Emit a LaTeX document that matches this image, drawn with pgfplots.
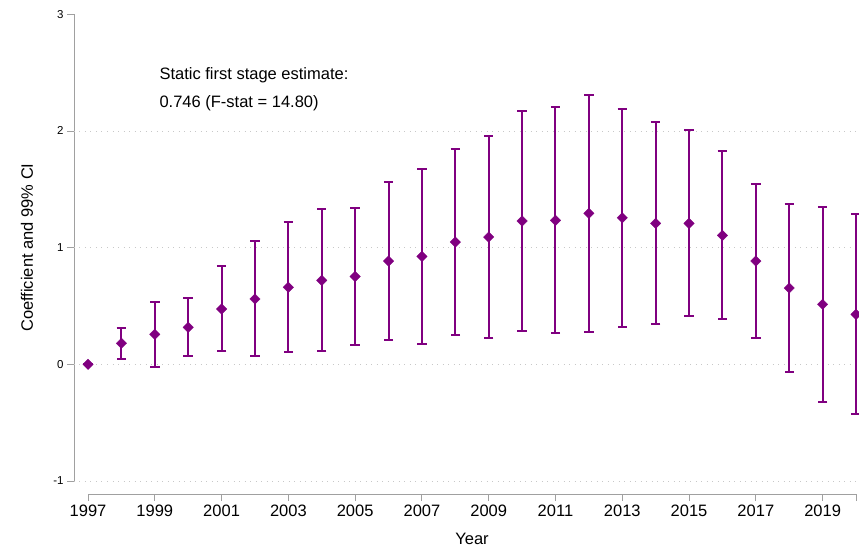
\documentclass[border=0pt]{standalone}
\usepackage{pgfplots}
\usepackage{pgfplotstable}
\pgfplotsset{compat=1.18}
\usepackage{fontspec}
\setmainfont{Liberation Sans}
\definecolor{stpurple}{RGB}{128,0,128}
\definecolor{axgray}{RGB}{160,160,160}
\definecolor{gridgray}{RGB}{200,200,200}

\pgfplotstableread{
year coef lo hi
1997 0.000 0.000 0.000
1998 0.180 0.048 0.314
1999 0.257 -0.020 0.537
2000 0.317 0.068 0.571
2001 0.474 0.117 0.840
2002 0.560 0.071 1.057
2003 0.660 0.103 1.219
2004 0.720 0.117 1.328
2005 0.753 0.167 1.344
2006 0.885 0.208 1.562
2007 0.925 0.177 1.673
2008 1.048 0.254 1.842
2009 1.091 0.225 1.956
2010 1.228 0.285 2.173
2011 1.234 0.265 2.202
2012 1.294 0.277 2.312
2013 1.256 0.322 2.188
2014 1.208 0.345 2.074
2015 1.208 0.411 2.008
2016 1.105 0.388 1.828
2017 0.885 0.228 1.545
2018 0.654 -0.069 1.374
2019 0.514 -0.320 1.351
2020 0.428 -0.428 1.288
}\coefs

\begin{document}
\begin{tikzpicture}
\begin{axis}[
  scale only axis,
  width=782pt, height=466.7pt,
  at={(74pt,68pt)}, anchor=south west,
  xmin=1996.58, xmax=2020,
  ymin=-1, ymax=3,
  clip=false,
  axis y line*=left,
  axis x line*=bottom,
  axis x line shift=13pt,
  x axis line style={draw=none},
  y axis line style={axgray, line width=0.9pt},
  xtick={1997,1999,...,2019},
  xticklabels={1997,1999,2001,2003,2005,2007,2009,2011,2013,2015,2017,2019},
  extra x ticks={2020},
  extra x tick labels={},
  ytick={-1,0,1,2,3},
  yticklabels={-1,0,1,2,3},
  extra y ticks={-1,0,1,2},
  extra y tick labels={},
  extra y tick style={grid=major, major tick length=0pt},
  major grid style={gridgray, dash pattern=on 1pt off 4.5pt, line width=0.9pt},
  tick align=outside,
  major tick length=7pt,
  every tick/.style={axgray, line width=0.9pt},
  xticklabel style={font=\fontsize{16.5}{18}\selectfont},
  yticklabel style={font=\fontsize{11.5}{13}\selectfont},
  xlabel={Year},
  ylabel={Coefficient and 99\% CI},
  xlabel style={font=\fontsize{16.5}{18}\selectfont, at={(axis description cs:0.509,-0.137)}, anchor=base},
  ylabel style={font=\fontsize{16.5}{18}\selectfont, at={(axis description cs:-0.0601,0.5)}, anchor=center},
]
\addplot[
  color=stpurple, only marks,
  mark=square*, mark size=3.7pt,
  mark options={rotate=45, fill=stpurple, draw=stpurple, line width=0.3pt},
  error bars/.cd,
    y dir=both, y explicit,
    error bar style={draw=stpurple, line width=2pt},
    error mark options={draw=stpurple, line width=2pt, mark size=4.7pt, rotate=90},
] table[x=year, y=coef,
        y error plus expr=\thisrow{hi}-\thisrow{coef},
        y error minus expr=\thisrow{coef}-\thisrow{lo}] {\coefs};
\draw[axgray, line width=0.9pt] ([yshift=-13pt]axis cs:1997,-1) -- ([yshift=-13pt]axis cs:2020,-1);
\node[anchor=base west, inner sep=0pt, font=\fontsize{16.5}{18}\selectfont] at (axis cs:1999.135,2.443) {Static first stage estimate:};
\node[anchor=base west, inner sep=0pt, font=\fontsize{16.5}{18}\selectfont] at (axis cs:1999.135,2.200) {0.746 (F-stat = 14.80)};
\end{axis}
\pgfresetboundingbox
\useasboundingbox (0,0) rectangle (859pt,549pt);
\end{tikzpicture}
\end{document}
